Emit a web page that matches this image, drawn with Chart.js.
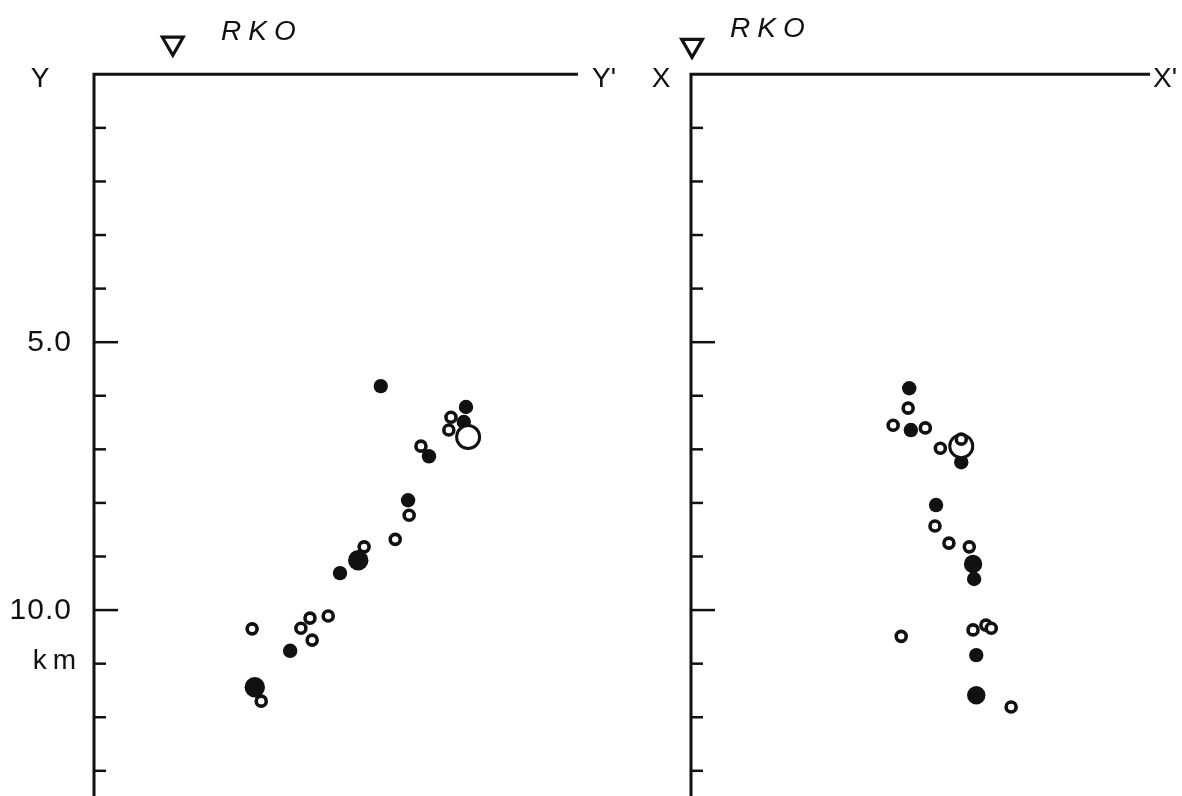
<!DOCTYPE html>
<html lang="en">
<head>
    <meta charset="UTF-8">
    <title>RKO hypocentre sections</title>
    <script src="https://cdn.jsdelivr.net/npm/chart.js"></script>
    <style>
        body {
            margin: 0;
            padding: 0;
            background: #fff;
            font-family: "Liberation Sans", Arial, sans-serif;
        }
        .wrap {
            position: relative;
            width: 1182px;
            height: 796px;
        }
        canvas {
            position: absolute;
            left: 0;
            top: 0;
        }
    </style>
</head>
<body>
    <div class="wrap">
        <canvas id="sectionY" width="1182" height="796"></canvas>
        <canvas id="sectionX" width="1182" height="796"></canvas>
    </div>

    <script>
        // depth ticks (km) and the labelled ones
        const depthTicks = [1, 2, 3, 4, 5, 6, 7, 8, 9, 10, 11, 12, 13];
        const majorTicks = [5, 10];
        const tickLabels = ['5.0', '10.0'];

        // Y - Y' section: [distance km, depth km]
        const yOpenSmall = [[6.66, 6.40], [6.62, 6.64], [6.10, 6.94], [5.88, 8.23], [5.62, 8.68], [5.04, 8.82],
            [4.37, 10.11], [4.03, 10.15], [3.86, 10.34], [4.07, 10.56], [2.95, 10.35], [3.12, 11.70]];
        const yFilledSmall = [[5.35, 5.82], [6.94, 6.21], [6.90, 6.49], [6.25, 7.13], [5.86, 7.95], [4.59, 9.31], [3.66, 10.76]];
        const yFilledLarge = [[4.93, 9.07], [3.00, 11.44]];
        const yOpenLarge = [[6.98, 6.77]];
        const yStation = [[1.47, -0.58]];

        // X - X' section
        const xOpenSmall = [[4.05, 6.23], [3.77, 6.55], [4.37, 6.60], [4.65, 6.98], [5.04, 6.81], [4.55, 8.43],
            [4.81, 8.75], [5.19, 8.82], [3.92, 10.49], [5.26, 10.37], [5.50, 10.28], [5.60, 10.34], [5.97, 11.81]];
        const xFilledSmall = [[4.07, 5.86], [4.10, 6.64], [5.04, 7.24], [4.57, 8.04], [5.28, 9.42], [5.32, 10.84]];
        const xFilledLarge = [[5.26, 9.14], [5.32, 11.59]];
        const xOpenLarge = [[5.04, 6.94]];
        const xStation = [[0.02, -0.54]];

        const toPts = arr => arr.map(p => ({ x: p[0], y: p[1] }));
        const FONT = '"Liberation Sans", Arial, sans-serif';

        const sectionFrame = {
            id: 'sectionFrame',
            afterDraw(chart, args, opts) {
                const { ctx, chartArea } = chart;
                const yScale = chart.scales.y;
                const top = yScale.getPixelForValue(0);
                ctx.save();
                ctx.strokeStyle = '#111';
                ctx.fillStyle = '#111';
                ctx.lineCap = 'butt';

                // axis lines
                ctx.lineWidth = 3;
                ctx.beginPath();
                ctx.moveTo(chartArea.left, chartArea.bottom);
                ctx.lineTo(chartArea.left, top);
                ctx.lineTo(chartArea.right, top);
                ctx.stroke();

                // inward tick marks
                ctx.lineWidth = 2.5;
                depthTicks.forEach(t => {
                    const py = yScale.getPixelForValue(t);
                    const len = majorTicks.includes(t) ? 24 : 12;
                    ctx.beginPath();
                    ctx.moveTo(chartArea.left, py);
                    ctx.lineTo(chartArea.left + len, py);
                    ctx.stroke();
                });

                ctx.font = '28px ' + FONT;
                ctx.textBaseline = 'alphabetic';
                ctx.textAlign = 'center';
                ctx.fillText(opts.start, chartArea.left - opts.startGap, top + 13);
                ctx.textAlign = 'left';
                ctx.fillText(opts.end, chartArea.right + opts.endGap, top + 13);

                if (opts.depthLabels) {
                    ctx.font = '30px ' + FONT;
                    ctx.textAlign = 'right';
                    ctx.textBaseline = 'middle';
                    ctx.letterSpacing = '1px';
                    majorTicks.forEach((t, i) => {
                        ctx.fillText(tickLabels[i], chartArea.left - 22, yScale.getPixelForValue(t) + 1);
                    });
                    ctx.font = '28px ' + FONT;
                    ctx.letterSpacing = '6px';
                    ctx.fillText('km', chartArea.left - 12, yScale.getPixelForValue(10.95));
                    ctx.letterSpacing = '0px';
                }

                // station name
                ctx.font = 'italic 28px ' + FONT;
                ctx.textAlign = 'left';
                ctx.textBaseline = 'alphabetic';
                ctx.letterSpacing = '7px';
                ctx.fillText('RKO', opts.stationLabelX, opts.stationLabelY);
                ctx.restore();
            }
        };

        function makeSection(id, o) {
            new Chart(document.getElementById(id), {
                type: 'scatter',
                data: {
                    datasets: [
                        { data: toPts(o.openSmall), pointRadius: 5, borderWidth: 3.6, borderColor: '#111', backgroundColor: '#fff' },
                        { data: toPts(o.openLarge), pointRadius: 11.5, borderWidth: 3, borderColor: '#111', backgroundColor: '#fff' },
                        { data: toPts(o.filledLarge), pointRadius: o.bigR, borderWidth: 0, backgroundColor: '#111' },
                        { data: toPts(o.filledSmall), pointRadius: 7.2, borderWidth: 0, backgroundColor: '#111' },
                        { data: toPts(o.station), pointStyle: 'triangle', rotation: 180, pointRadius: 12, clip: false,
                          borderWidth: 3.2, borderColor: '#111', backgroundColor: 'rgba(0,0,0,0)' }
                    ]
                },
                options: {
                    responsive: false,
                    animation: false,
                    events: [],
                    layout: { autoPadding: false, padding: o.padding },
                    plugins: {
                        legend: { display: false },
                        tooltip: { enabled: false },
                        sectionFrame: o.frame
                    },
                    scales: {
                        x: { type: 'linear', display: false, min: 0, max: o.xMax },
                        y: { type: 'linear', display: false, reverse: true, min: -1.2, max: 13.47 }
                    }
                },
                plugins: [sectionFrame]
            });
        }

        makeSection('sectionY', {
            openSmall: yOpenSmall, openLarge: yOpenLarge, filledLarge: yFilledLarge,
            filledSmall: yFilledSmall, station: yStation, bigR: 10.2,
            padding: { left: 94, right: 604, top: 10, bottom: 0 }, xMax: 9.03,
            frame: { start: 'Y', end: "Y'", startGap: 54, endGap: 14, depthLabels: true, stationLabelX: 221, stationLabelY: 40 }
        });

        makeSection('sectionX', {
            openSmall: xOpenSmall, openLarge: xOpenLarge, filledLarge: xFilledLarge,
            filledSmall: xFilledSmall, station: xStation, bigR: 9.2,
            padding: { left: 691, right: 32, top: 10, bottom: 0 }, xMax: 8.56,
            frame: { start: 'X', end: "X'", startGap: 30, endGap: 3, depthLabels: false, stationLabelX: 730, stationLabelY: 37 }
        });
    </script>
</body>
</html>
